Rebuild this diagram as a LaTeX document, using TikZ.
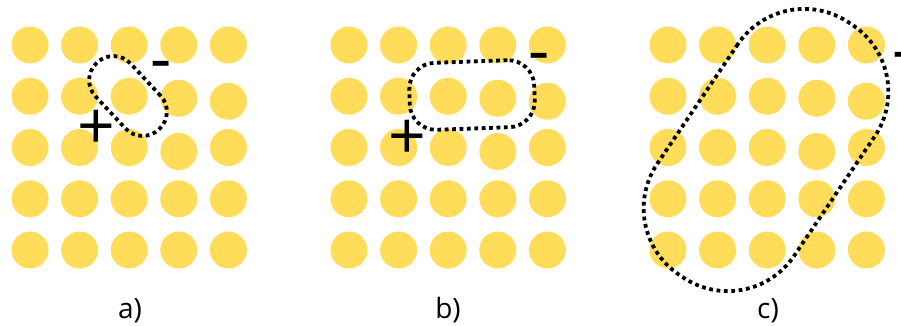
\documentclass[tikz,border=0pt]{standalone}
\usepackage{fontspec}
\setmainfont{Open Sans}
\usepackage{xcolor}
\definecolor{siteyellow}{RGB}{255,220,90}
\tikzset{
	site/.style={fill=siteyellow, draw=none, shape=circle, minimum size=37pt, inner sep=0pt},
	ring/.style={draw=black, line width=3.8pt, dash pattern=on 3.8pt off 3.6pt, shape=rectangle, rounded corners=#1, inner sep=0pt},
	sign/.style={font=\fontsize{66}{66}\selectfont, inner sep=0pt},
	caption/.style={font=\fontsize{28}{28}\selectfont, inner sep=0pt, anchor=base}
}

\begin{document}
\begin{tikzpicture}[x=1pt, y=-1pt]
	\useasboundingbox (0, 0) rectangle (901, 325);
	% three lattices of 5x5 sites
	\foreach \px/\pn in {30/a, 349/b, 668/c} {
		\foreach \i in {1,...,5} {
			\foreach \j in {1,...,5} {
				\pgfmathsetmacro\shift{and(\i==4,\j==2)*2 + and(\i==5,\j==2)*5 + and(\i==4,\j==3)*4}
				\node [site] (\pn-\i-\j) at ({\px+(\i-1)*49.6}, {45+(\j-1)*51.25+\shift}) {};
			}
		}
	}
	% dotted loops
	\node [ring=23.5pt, rotate=-47, minimum width=91pt, minimum height=48pt] (ringa) at (128, 96) {};
	\node [ring=26pt, rotate=2, minimum width=125pt, minimum height=67pt] (ringb) at (472, 95) {};
	\node [ring=80pt, rotate=56, minimum width=304pt, minimum height=165pt] (ringc) at (766, 150) {};
	% charges
	\node [sign] (plusa) at (96, 130) {+};
	\node [sign, anchor=base] (minusa) at (161, 81) {-};
	\node [sign] (plusb) at (407, 140) {+};
	\node [sign, anchor=base] (minusb) at (539, 73) {-};
	\node [sign, anchor=base] (minusc) at (903.5, 72.5) {-};
	% captions
	\node [caption] (capa) at (130, 318) {a)};
	\node [caption] (capb) at (448, 318) {b)};
	\node [caption] (capc) at (768, 318) {c)};
\end{tikzpicture}
\end{document}
